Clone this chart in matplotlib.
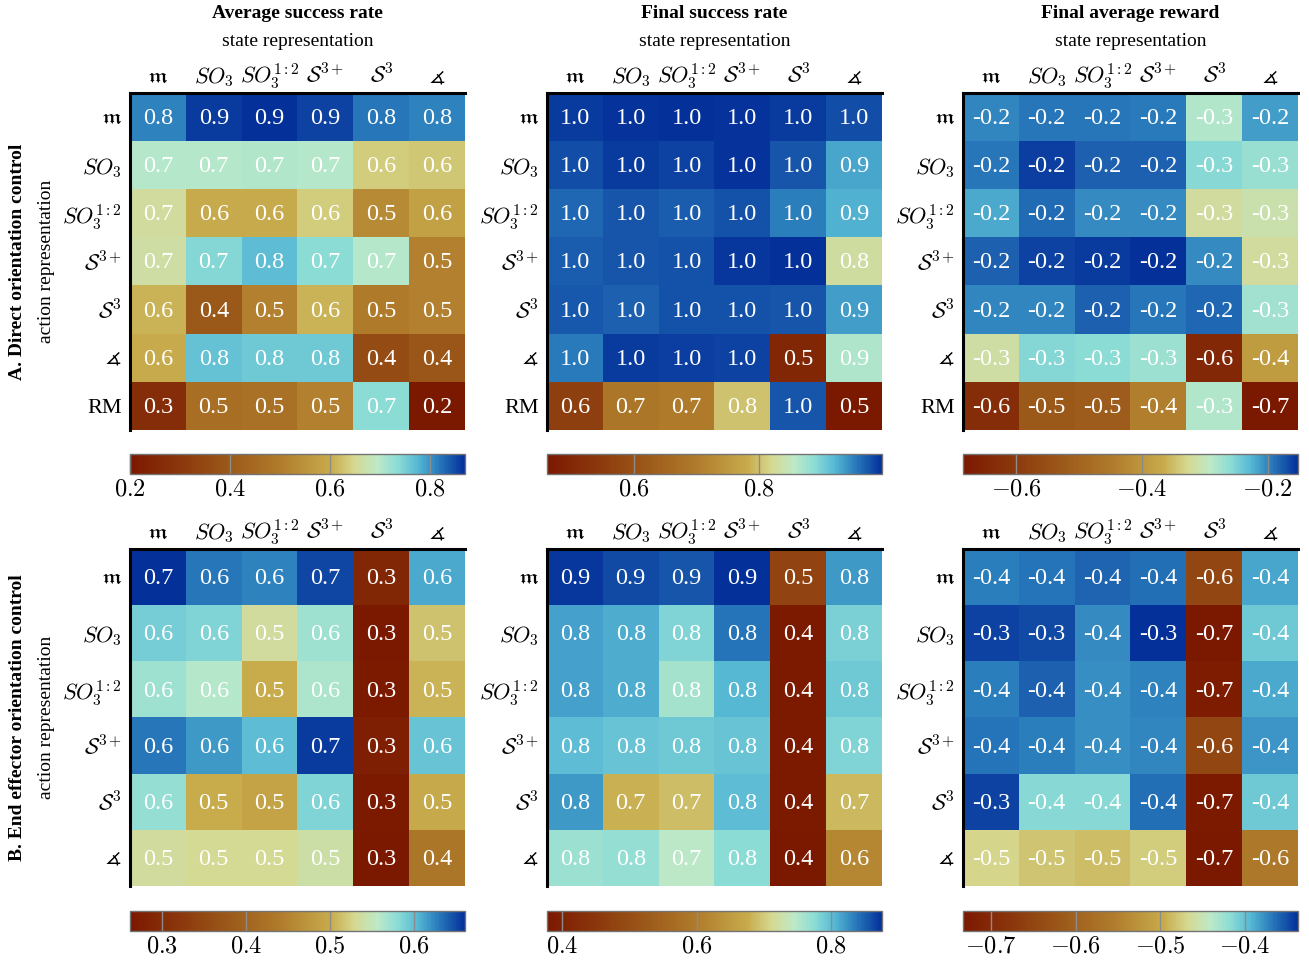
import numpy as np
import matplotlib
matplotlib.use("Agg")
import matplotlib.pyplot as plt
from matplotlib.colors import LinearSegmentedColormap
from matplotlib.ticker import MultipleLocator, FuncFormatter

plt.rcParams["font.family"] = ["Liberation Serif", "DejaVu Serif"]
plt.rcParams["mathtext.fontset"] = "cm"

# ---------------------------------------------------------------- data
state_labels = [r"$\mathfrak{m}$", r"$SO_3$", r"$SO_3^{1:2}$", r"$\mathcal{S}^{3+}$",
                r"$\mathcal{S}^3$", r"$\measuredangle$"]
action_labels_direct = state_labels + ["RM"]
action_labels_ee = list(state_labels)

panel_titles = ["Average success rate", "Final success rate", "Final average reward"]
row_titles = ["A. Direct orientation control", "B. End effector orientation control"]

# A. Direct orientation control (rows: action repr., cols: state repr.)
direct_avg_success = [
    [0.81, 0.86, 0.87, 0.855, 0.82, 0.81],
    [0.70, 0.70, 0.705, 0.70, 0.635, 0.63],
    [0.66, 0.60, 0.60, 0.635, 0.53, 0.58],
    [0.665, 0.74, 0.77, 0.735, 0.70, 0.51],
    [0.61, 0.40, 0.51, 0.61, 0.50, 0.51],
    [0.60, 0.765, 0.755, 0.755, 0.36, 0.39],
    [0.27, 0.46, 0.47, 0.51, 0.735, 0.20],
]
direct_final_success = [
    [0.99, 0.994, 0.997, 0.994, 0.99, 0.98],
    [0.98, 0.99, 0.985, 0.994, 0.975, 0.93],
    [0.965, 0.975, 0.97, 0.978, 0.952, 0.925],
    [0.97, 0.974, 0.978, 0.992, 0.997, 0.83],
    [0.972, 0.968, 0.978, 0.978, 0.974, 0.935],
    [0.955, 0.99, 0.988, 0.985, 0.50, 0.865],
    [0.56, 0.69, 0.70, 0.80, 0.974, 0.46],
]
direct_final_reward = [
    [-0.20, -0.193, -0.192, -0.194, -0.284, -0.214],
    [-0.193, -0.161, -0.18, -0.18, -0.257, -0.267],
    [-0.22, -0.186, -0.203, -0.203, -0.32, -0.31],
    [-0.18, -0.163, -0.16, -0.152, -0.204, -0.32],
    [-0.20, -0.20, -0.18, -0.193, -0.184, -0.273],
    [-0.316, -0.255, -0.26, -0.27, -0.642, -0.39],
    [-0.63, -0.525, -0.52, -0.44, -0.285, -0.685],
]

# B. End effector orientation control
ee_avg_success = [
    [0.66, 0.63, 0.625, 0.65, 0.29, 0.61],
    [0.59, 0.585, 0.535, 0.57, 0.265, 0.515],
    [0.57, 0.56, 0.50, 0.565, 0.268, 0.505],
    [0.63, 0.615, 0.60, 0.655, 0.275, 0.595],
    [0.575, 0.50, 0.49, 0.585, 0.268, 0.497],
    [0.535, 0.53, 0.53, 0.54, 0.262, 0.43],
]
ee_final_success = [
    [0.87, 0.86, 0.855, 0.875, 0.48, 0.82],
    [0.815, 0.81, 0.78, 0.84, 0.385, 0.785],
    [0.815, 0.81, 0.76, 0.805, 0.385, 0.79],
    [0.80, 0.795, 0.79, 0.795, 0.385, 0.78],
    [0.82, 0.68, 0.69, 0.80, 0.385, 0.685],
    [0.765, 0.77, 0.745, 0.775, 0.378, 0.62],
]
ee_final_reward = [
    [-0.37, -0.366, -0.36, -0.364, -0.645, -0.385],
    [-0.345, -0.349, -0.375, -0.337, -0.73, -0.405],
    [-0.37, -0.358, -0.376, -0.372, -0.725, -0.387],
    [-0.366, -0.37, -0.376, -0.373, -0.648, -0.38],
    [-0.345, -0.415, -0.415, -0.364, -0.728, -0.405],
    [-0.47, -0.48, -0.485, -0.475, -0.733, -0.56],
]

tick_steps = [[0.2, 0.2, 0.2], [0.1, 0.2, 0.1]]

# ---------------------------------------------------------------- colormap
cmap = LinearSegmentedColormap.from_list("roma_like", [
    (0.00, "#7b1800"),
    (0.15, "#8b380c"),
    (0.30, "#9c5a1a"),
    (0.45, "#b07c2c"),
    (0.60, "#c8ac4c"),
    (0.67, "#d6d890"),
    (0.74, "#bde9c8"),
    (0.80, "#8cdcd6"),
    (0.86, "#56b8d4"),
    (0.92, "#2a7cbc"),
    (1.00, "#04309a"),
])

# ---------------------------------------------------------------- layout
W, H = 1309, 964
fig = plt.figure(figsize=(W / 100, H / 100), dpi=100)


def px_rect(x0, y0, x1, y1):
    return [x0 / W, 1 - y1 / H, (x1 - x0) / W, (y1 - y0) / H]


col_x = [(130, 465), (547, 882), (963, 1298)]
row_y = [(93, 430), (549, 886)]
cbar_y = [(454, 474), (911, 931)]

grids = [[direct_avg_success, direct_final_success, direct_final_reward],
         [ee_avg_success, ee_final_success, ee_final_reward]]
row_label_sets = [action_labels_direct, action_labels_ee]

for r in range(2):
    for c in range(3):
        data = np.array(grids[r][c], dtype=float)
        nrow, ncol = data.shape
        x0, x1 = col_x[c]
        y0, y1 = row_y[r]
        ax = fig.add_axes(px_rect(x0, y0, x1, y1))
        im = ax.imshow(data, cmap=cmap, aspect="auto", interpolation="nearest")
        for i in range(nrow):
            for j in range(ncol):
                ax.text(j, i + 0.03, f"{data[i, j]:.1f}", ha="center", va="center",
                        color="white", fontsize=17.5)
        ax.set_xticks(range(ncol))
        ax.set_xticklabels(state_labels, fontsize=16)
        ax.xaxis.tick_top()
        ax.set_yticks(range(nrow))
        ax.set_yticklabels(row_label_sets[r], fontsize=16)
        ax.tick_params(length=0, pad=6)
        ax.tick_params(axis="x", pad=7)
        for lab in ax.get_xticklabels():
            lab.set_verticalalignment("baseline")
        for side in ("right", "bottom"):
            ax.spines[side].set_visible(False)
        for side in ("left", "top"):
            ax.spines[side].set_linewidth(2.2)
            ax.spines[side].set_color("black")

        if r == 0:
            cx = (x0 + x1) / 2 / W
            fig.text(cx, 1 - 13 / H, panel_titles[c], ha="center", va="center",
                     fontsize=14, fontweight="bold")
            fig.text(cx, 1 - 41 / H, "state representation", ha="center",
                     va="center", fontsize=14)

        # colorbar
        cy0, cy1 = cbar_y[r]
        cax = fig.add_axes(px_rect(x0, cy0, x1, cy1))
        cb = fig.colorbar(im, cax=cax, orientation="horizontal")
        cb.ax.xaxis.set_major_locator(MultipleLocator(tick_steps[r][c]))
        cb.ax.xaxis.set_major_formatter(FuncFormatter(lambda v, p: f"${v:.1f}$"))
        cb.ax.tick_params(direction="in", length=(cy1 - cy0) * 0.72, width=1,
                          color="0.55", labelsize=17.5, pad=4)
        cb.outline.set_edgecolor("0.45")
        cb.outline.set_linewidth(1.0)

    cy = 1 - (row_y[r][0] + row_y[r][1]) / 2 / H
    fig.text(18 / W, cy, row_titles[r], rotation=90, ha="center", va="center",
             fontsize=14, fontweight="bold")
    fig.text(47 / W, cy, "action representation", rotation=90, ha="center",
             va="center", fontsize=14)

fig.savefig("out.png", dpi=100)
